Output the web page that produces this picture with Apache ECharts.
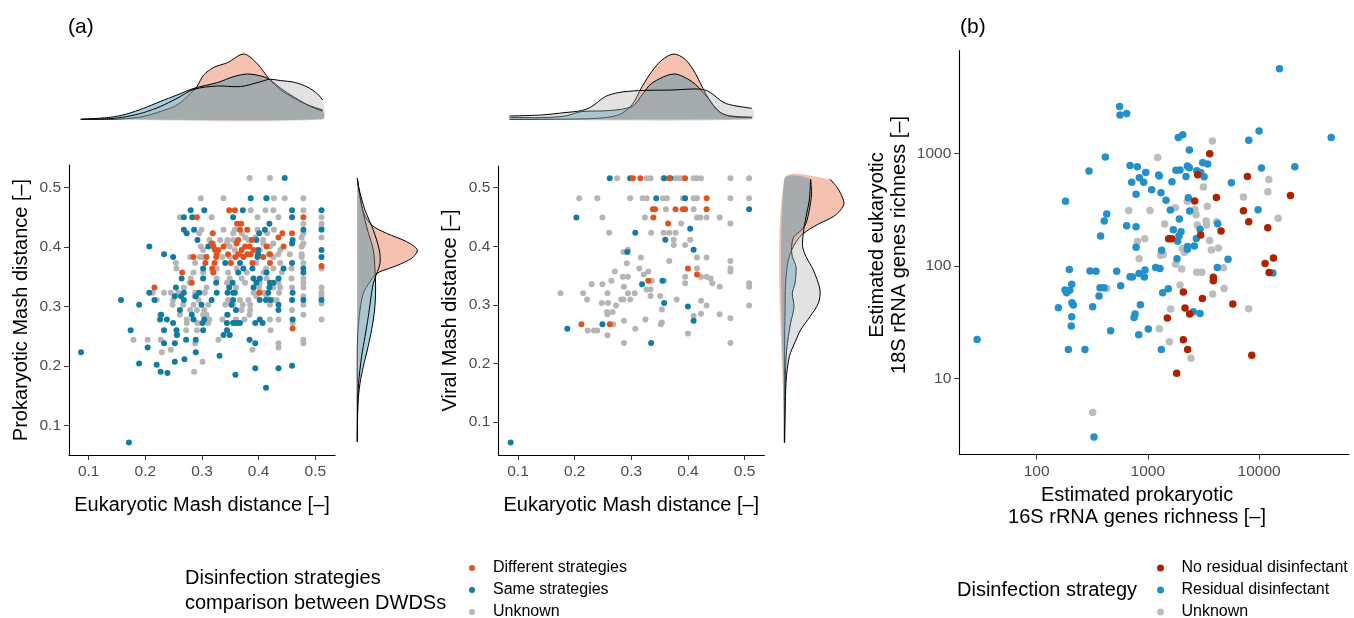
<!DOCTYPE html>
<html>
<head>
<meta charset="utf-8">
<script src="https://cdn.jsdelivr.net/npm/echarts@6.0.0/dist/echarts.min.js"></script>
<style>
  html, body { margin: 0; padding: 0; background: #fff; }
  #chart { width: 1354px; height: 618px; }
</style>
</head>
<body>
<div id="chart"></div>
<script>
// ---- tick labels ----
var mashTicks = [0.1, 0.2, 0.3, 0.4, 0.5];
var prokTicks = [100, 1000, 10000];
var eukTicks = [10, 100, 1000];

// ---- panel (a) left: eukaryotic vs prokaryotic Mash distance ----
var p1Different = [[0.348,0.462],[0.358,0.462],[0.291,0.45],[0.479,0.45],[0.362,0.439],[0.369,0.439],[0.367,0.429],[0.38,0.429],[0.319,0.423],[0.442,0.423],[0.459,0.423],[0.435,0.416],[0.364,0.412],[0.388,0.412],[0.317,0.406],[0.361,0.406],[0.32,0.401],[0.338,0.401],[0.376,0.401],[0.384,0.401],[0.414,0.401],[0.444,0.401],[0.323,0.395],[0.329,0.395],[0.37,0.395],[0.391,0.395],[0.326,0.388],[0.346,0.388],[0.364,0.388],[0.38,0.388],[0.386,0.388],[0.42,0.388],[0.285,0.383],[0.308,0.383],[0.325,0.383],[0.359,0.383],[0.373,0.383],[0.408,0.383],[0.306,0.373],[0.322,0.373],[0.351,0.373],[0.389,0.373],[0.42,0.373],[0.511,0.368],[0.318,0.364],[0.265,0.357],[0.32,0.357],[0.282,0.34],[0.216,0.332],[0.401,0.323],[0.46,0.263]];
var p1Same = [[0.446,0.516],[0.386,0.482],[0.414,0.482],[0.28,0.462],[0.304,0.462],[0.372,0.462],[0.459,0.462],[0.511,0.462],[0.268,0.45],[0.283,0.45],[0.355,0.45],[0.459,0.45],[0.419,0.439],[0.268,0.429],[0.286,0.429],[0.411,0.429],[0.479,0.429],[0.511,0.429],[0.273,0.423],[0.401,0.423],[0.292,0.412],[0.396,0.412],[0.46,0.412],[0.459,0.406],[0.207,0.401],[0.311,0.401],[0.399,0.395],[0.511,0.395],[0.233,0.388],[0.399,0.388],[0.249,0.383],[0.398,0.383],[0.511,0.383],[0.341,0.373],[0.367,0.373],[0.459,0.373],[0.302,0.364],[0.373,0.364],[0.389,0.364],[0.444,0.364],[0.479,0.364],[0.364,0.357],[0.414,0.357],[0.479,0.357],[0.264,0.347],[0.302,0.347],[0.391,0.347],[0.402,0.347],[0.435,0.347],[0.325,0.34],[0.354,0.34],[0.396,0.34],[0.42,0.34],[0.426,0.34],[0.254,0.332],[0.348,0.332],[0.391,0.332],[0.419,0.332],[0.207,0.323],[0.268,0.323],[0.295,0.323],[0.326,0.323],[0.345,0.323],[0.355,0.323],[0.358,0.323],[0.417,0.323],[0.46,0.323],[0.252,0.317],[0.263,0.317],[0.289,0.317],[0.157,0.311],[0.216,0.311],[0.268,0.311],[0.317,0.311],[0.355,0.311],[0.402,0.311],[0.413,0.311],[0.421,0.311],[0.459,0.311],[0.479,0.311],[0.511,0.311],[0.189,0.303],[0.299,0.303],[0.352,0.303],[0.435,0.303],[0.261,0.294],[0.36,0.294],[0.435,0.294],[0.228,0.286],[0.282,0.286],[0.345,0.286],[0.226,0.278],[0.238,0.278],[0.285,0.278],[0.304,0.278],[0.402,0.278],[0.46,0.278],[0.249,0.272],[0.301,0.272],[0.344,0.272],[0.355,0.272],[0.361,0.272],[0.367,0.272],[0.394,0.272],[0.407,0.272],[0.174,0.26],[0.233,0.26],[0.255,0.26],[0.302,0.26],[0.344,0.26],[0.256,0.252],[0.338,0.252],[0.349,0.252],[0.272,0.244],[0.289,0.244],[0.384,0.244],[0.233,0.238],[0.252,0.238],[0.394,0.238],[0.204,0.231],[0.0865,0.223],[0.289,0.223],[0.331,0.217],[0.269,0.211],[0.252,0.207],[0.189,0.204],[0.22,0.202],[0.459,0.2],[0.394,0.196],[0.435,0.196],[0.227,0.19],[0.239,0.188],[0.359,0.185],[0.413,0.163],[0.171,0.071]];
var p1Unknown = [[0.384,0.516],[0.42,0.516],[0.298,0.482],[0.338,0.482],[0.413,0.482],[0.427,0.482],[0.446,0.482],[0.479,0.482],[0.386,0.462],[0.412,0.462],[0.426,0.462],[0.479,0.462],[0.261,0.45],[0.317,0.45],[0.398,0.45],[0.435,0.45],[0.511,0.45],[0.511,0.439],[0.479,0.439],[0.299,0.429],[0.338,0.429],[0.358,0.429],[0.398,0.429],[0.427,0.429],[0.511,0.433],[0.295,0.423],[0.355,0.423],[0.37,0.423],[0.415,0.423],[0.479,0.423],[0.394,0.416],[0.376,0.416],[0.476,0.416],[0.511,0.416],[0.313,0.412],[0.332,0.412],[0.345,0.412],[0.355,0.412],[0.382,0.412],[0.408,0.412],[0.32,0.406],[0.344,0.406],[0.408,0.406],[0.426,0.406],[0.479,0.406],[0.298,0.401],[0.349,0.401],[0.42,0.401],[0.476,0.401],[0.302,0.395],[0.358,0.395],[0.402,0.395],[0.438,0.395],[0.367,0.388],[0.418,0.388],[0.435,0.388],[0.455,0.388],[0.476,0.388],[0.279,0.383],[0.296,0.383],[0.302,0.383],[0.336,0.383],[0.349,0.383],[0.426,0.383],[0.476,0.383],[0.254,0.373],[0.288,0.373],[0.396,0.373],[0.438,0.373],[0.479,0.373],[0.255,0.364],[0.326,0.364],[0.361,0.364],[0.413,0.364],[0.426,0.364],[0.458,0.364],[0.511,0.364],[0.285,0.357],[0.302,0.357],[0.346,0.357],[0.379,0.357],[0.409,0.357],[0.441,0.357],[0.28,0.347],[0.326,0.347],[0.349,0.347],[0.37,0.347],[0.414,0.347],[0.458,0.347],[0.479,0.347],[0.278,0.34],[0.344,0.34],[0.376,0.34],[0.402,0.34],[0.435,0.34],[0.479,0.34],[0.268,0.332],[0.308,0.332],[0.36,0.332],[0.401,0.332],[0.426,0.332],[0.438,0.332],[0.459,0.332],[0.479,0.332],[0.511,0.332],[0.213,0.323],[0.233,0.323],[0.245,0.323],[0.258,0.323],[0.288,0.323],[0.305,0.323],[0.391,0.323],[0.408,0.323],[0.436,0.323],[0.511,0.323],[0.287,0.317],[0.396,0.317],[0.414,0.317],[0.479,0.317],[0.511,0.317],[0.22,0.311],[0.249,0.311],[0.294,0.311],[0.346,0.311],[0.367,0.311],[0.382,0.311],[0.425,0.311],[0.432,0.311],[0.511,0.305],[0.248,0.303],[0.267,0.303],[0.285,0.303],[0.311,0.303],[0.341,0.303],[0.355,0.303],[0.372,0.303],[0.385,0.303],[0.42,0.303],[0.479,0.303],[0.279,0.294],[0.291,0.294],[0.304,0.294],[0.37,0.294],[0.385,0.294],[0.459,0.294],[0.226,0.286],[0.261,0.286],[0.302,0.286],[0.308,0.286],[0.344,0.286],[0.384,0.286],[0.479,0.286],[0.273,0.278],[0.313,0.278],[0.336,0.278],[0.36,0.278],[0.375,0.278],[0.42,0.278],[0.435,0.278],[0.511,0.278],[0.273,0.272],[0.292,0.272],[0.311,0.272],[0.46,0.272],[0.272,0.26],[0.291,0.26],[0.421,0.26],[0.255,0.252],[0.179,0.244],[0.204,0.244],[0.227,0.244],[0.329,0.244],[0.479,0.244],[0.288,0.238],[0.435,0.238],[0.479,0.238],[0.435,0.231],[0.245,0.227],[0.389,0.227],[0.229,0.223],[0.301,0.207],[0.286,0.19]];

// ---- panel (a) right: eukaryotic vs viral Mash distance ----
var p2Different = [[0.303,0.516],[0.316,0.516],[0.367,0.516],[0.395,0.516],[0.433,0.482],[0.338,0.463],[0.342,0.463],[0.378,0.463],[0.391,0.463],[0.395,0.463],[0.433,0.463],[0.339,0.449],[0.365,0.439],[0.4,0.362],[0.416,0.352],[0.33,0.341],[0.212,0.267],[0.262,0.267]];
var p2Same = [[0.262,0.516],[0.298,0.516],[0.358,0.516],[0.369,0.516],[0.344,0.482],[0.395,0.482],[0.508,0.463],[0.203,0.449],[0.404,0.43],[0.307,0.423],[0.36,0.411],[0.41,0.394],[0.293,0.39],[0.355,0.341],[0.319,0.335],[0.358,0.303],[0.4,0.297],[0.41,0.273],[0.249,0.267],[0.187,0.259],[0.335,0.235],[0.087,0.065]];
var p2Unknown = [[0.275,0.516],[0.327,0.516],[0.334,0.516],[0.357,0.516],[0.378,0.516],[0.384,0.516],[0.39,0.516],[0.41,0.516],[0.416,0.516],[0.423,0.516],[0.475,0.516],[0.508,0.516],[0.208,0.482],[0.24,0.482],[0.298,0.482],[0.32,0.482],[0.327,0.482],[0.356,0.482],[0.363,0.482],[0.391,0.482],[0.41,0.482],[0.416,0.482],[0.475,0.482],[0.508,0.482],[0.361,0.463],[0.41,0.463],[0.249,0.449],[0.324,0.449],[0.416,0.449],[0.422,0.449],[0.433,0.449],[0.456,0.449],[0.388,0.439],[0.475,0.439],[0.261,0.423],[0.335,0.423],[0.357,0.423],[0.367,0.423],[0.378,0.423],[0.375,0.411],[0.404,0.411],[0.375,0.402],[0.395,0.402],[0.294,0.394],[0.286,0.39],[0.317,0.381],[0.416,0.381],[0.433,0.381],[0.367,0.375],[0.475,0.375],[0.292,0.371],[0.314,0.362],[0.416,0.362],[0.475,0.362],[0.271,0.357],[0.475,0.357],[0.33,0.357],[0.322,0.352],[0.285,0.348],[0.294,0.348],[0.395,0.348],[0.433,0.348],[0.423,0.348],[0.44,0.345],[0.336,0.341],[0.358,0.341],[0.265,0.341],[0.443,0.337],[0.508,0.337],[0.395,0.337],[0.23,0.335],[0.249,0.335],[0.508,0.331],[0.456,0.331],[0.287,0.331],[0.327,0.326],[0.334,0.326],[0.175,0.32],[0.215,0.32],[0.258,0.32],[0.306,0.32],[0.294,0.32],[0.334,0.315],[0.351,0.315],[0.282,0.309],[0.298,0.309],[0.286,0.309],[0.222,0.309],[0.38,0.309],[0.423,0.307],[0.248,0.303],[0.259,0.303],[0.273,0.299],[0.508,0.299],[0.433,0.299],[0.354,0.292],[0.267,0.288],[0.257,0.288],[0.423,0.285],[0.456,0.284],[0.258,0.284],[0.41,0.281],[0.475,0.277],[0.325,0.275],[0.287,0.273],[0.354,0.27],[0.268,0.267],[0.352,0.267],[0.307,0.259],[0.223,0.256],[0.234,0.256],[0.24,0.256],[0.4,0.251],[0.258,0.248],[0.287,0.235],[0.475,0.235]];

// ---- panel (b): prokaryotic vs eukaryotic richness ----
var bNoResidual = [[3597,1000],[2805,650],[7850,628],[4130,408],[19140,425],[2636,379],[7230,311],[8070,248],[11970,219],[4550,205],[2985,189],[1538,175],[1637,175],[13460,118],[11320,105.6],[12300,87.8],[3880,79.3],[3880,74],[2084,58.7],[5800,45.9],[3090,51.5],[2158,42.3],[2376,37.4],[1496,34.5],[2084,22.1],[2278,18.1],[8590,16.1],[1816,11.1]];
var bResidual = [[15240,5710],[558,2640],[562,2210],[645,2285],[1880,1397],[2057,1475],[10000,1592],[8070,1315],[44460,1397],[2360,1078],[415,934],[296,701],[692,787],[805,766],[957,682],[839,611],[716,556],[918,556],[1251,646],[1268,632],[1790,711],[1945,716],[2264,777],[2360,750],[2203,628],[1648,563],[2750,706],[2985,682],[3199,624],[3112,832],[3451,809],[10500,745],[20940,766],[5640,552],[1082,478],[1313,450],[783,435],[182,377],[1456,385],[2312,406],[1592,316],[2377,309],[9790,317],[427,290],[406,252],[645,229],[783,224],[1918,262],[4247,238],[2944,213],[1694,210],[1986,202],[376,185],[1905,185],[2730,176],[1853,166],[783,147],[1330,138],[2278,149],[2264,141],[2618,151],[1829,116],[5260,115],[197,93.3],[302,90.2],[342,90],[525,90],[692,80.3],[726,80],[834,86],[931,80],[944,92],[1176,97.3],[1285,95.3],[4217,97.3],[13280,86.6],[207,68.7],[180,61.1],[199,61],[186,57.9],[372,64.1],[403,64],[570,66.9],[364,54.1],[1528,62.8],[1358,57.9],[208,47.2],[214,45],[157,42.6],[319,43.5],[857,45.3],[207,35.4],[767,37.4],[752,34.9],[2564,39.2],[2944,37.9],[205,29.2],[463,26.5],[1010,27.5],[828,24.5],[29.2,22.2],[193,18.1],[272,18.1],[1321,18.1],[328,3.0]];
var bUnknown = [[3800,1297],[1225,927],[12220,591],[11970,459],[7230,411],[3155,505],[2264,377],[1766,331],[3428,340],[673,313],[1045,313],[2656,319],[2710,286],[14830,267],[1416,237],[2786,232],[3334,252],[3381,232],[4159,248],[937,175],[805,165],[3597,169],[3724,139],[4303,145],[2042,143],[2128,133],[1303,125],[1377,127],[834,116],[4775,96.6],[2014,94],[2750,87.9],[3050,88],[427,63.2],[1945,67.8],[4843,63.2],[3828,56.4],[1603,41.4],[8070,41.7],[1268,27.7],[1560,21.2],[2445,15.1],[319,4.98],[1778,104]];

// ---- marginal densities, [position, density] ----
var top1Different = [[0.086,0],[0.138,0],[0.167,0.07],[0.197,0.3],[0.226,0.77],[0.256,1.43],[0.28,2.6],[0.291,3.27],[0.303,4.43],[0.321,5.2],[0.345,5.67],[0.374,6.53],[0.398,5.53],[0.419,4.0],[0.439,2.93],[0.463,2.1],[0.487,1.43],[0.513,0.93]];
var top1Same = [[0.086,0],[0.138,0.2],[0.167,0.53],[0.197,1.1],[0.226,1.77],[0.256,2.43],[0.286,3.1],[0.327,3.67],[0.356,4.27],[0.38,4.53],[0.404,4.33],[0.419,4.0],[0.439,3.1],[0.463,2.2],[0.487,1.43],[0.513,0.8]];
var top1Unknown = [[0.086,0],[0.138,0.07],[0.167,0.27],[0.197,0.67],[0.226,1.27],[0.256,2.1],[0.286,3.0],[0.327,3.33],[0.368,3.27],[0.404,3.77],[0.419,4.0],[0.439,3.87],[0.463,3.7],[0.487,3.2],[0.504,2.53],[0.513,1.93]];
var right1Different = [[0.072,0],[0.2267,0],[0.2604,0.07],[0.294,0.27],[0.3221,0.6],[0.3417,1.27],[0.3529,1.77],[0.3585,2.27],[0.3686,3.93],[0.381,5.43],[0.395,6.0],[0.409,4.93],[0.423,2.93],[0.437,1.43],[0.4567,0.67],[0.4847,0.27],[0.5156,0]];
var right1Same = [[0.072,0],[0.1369,0.07],[0.1706,0.27],[0.1986,0.6],[0.2267,1.0],[0.2604,1.43],[0.294,1.73],[0.3277,1.83],[0.3613,1.77],[0.395,1.6],[0.4342,0.93],[0.4791,0.33],[0.5156,0]];
var right1Unknown = [[0.072,0],[0.1257,0.03],[0.1706,0.13],[0.2155,0.43],[0.2491,0.77],[0.2828,1.1],[0.3108,1.33],[0.3389,1.6],[0.3546,1.93],[0.3725,2.27],[0.395,2.2],[0.4286,1.6],[0.4623,0.77],[0.4959,0.2],[0.5156,0]];
var top2Different = [[0.085,0],[0.23,0.07],[0.277,0.43],[0.301,1.43],[0.319,3.27],[0.336,4.77],[0.354,5.93],[0.375,6.53],[0.395,6.0],[0.413,4.6],[0.431,2.6],[0.449,1.1],[0.466,0.43],[0.513,0.2]];
var top2Same = [[0.085,0.2],[0.141,0.17],[0.183,0.33],[0.212,0.77],[0.26,0.87],[0.301,1.27],[0.319,2.43],[0.336,3.6],[0.375,4.53],[0.407,3.77],[0.431,2.43],[0.455,0.77],[0.478,0.27],[0.513,0.2]];
var top2Unknown = [[0.085,0.33],[0.141,0.43],[0.183,0.67],[0.212,0.87],[0.23,1.27],[0.254,2.27],[0.277,2.67],[0.313,2.87],[0.372,2.93],[0.419,3.03],[0.437,2.77],[0.466,1.6],[0.513,1.1]];
var right2Different = [[0.065,0],[0.2457,0.03],[0.2799,0.07],[0.3368,0.13],[0.3766,0.4],[0.3994,0.9],[0.4164,1.57],[0.4278,2.4],[0.4392,3.57],[0.4506,4.9],[0.462,5.63],[0.4734,5.97],[0.4904,5.63],[0.5018,5.23],[0.5143,4.57]];
var right2Same = [[0.065,0.03],[0.1661,0.1],[0.223,0.23],[0.2685,0.63],[0.2969,0.97],[0.3197,0.8],[0.3368,1.07],[0.3652,1.17],[0.3823,0.8],[0.3994,0.73],[0.4164,0.97],[0.4278,1.73],[0.4392,2.17],[0.462,2.5],[0.4904,2.73],[0.5143,2.63]];
var right2Unknown = [[0.065,0.03],[0.1661,0.17],[0.2116,0.5],[0.24,1.17],[0.2571,1.63],[0.2799,2.57],[0.3026,3.4],[0.3254,3.57],[0.3595,2.9],[0.3823,2.17],[0.3994,1.83],[0.4221,1.9],[0.4506,2.17],[0.479,2.5],[0.5143,2.63]];

var font = 'Liberation Sans, Arial, sans-serif';
var cOrange = '#E2521F', cBlue = '#117BA2', cGray = '#B5B5B5';
var cRed = '#AE2200', cSky = '#2490C8', cGray2 = '#BDBDBD';
var fOrange = 'rgba(228,82,37,0.36)', fBlue = 'rgba(14,127,166,0.36)', fGray = 'rgba(175,175,175,0.36)';

var myChart = echarts.init(document.getElementById('chart'));

function mainX(idx, name, ticks) {
    return {
        type: 'value', gridIndex: idx, min: 0.0652, max: 0.5348,
        name: name, nameLocation: 'middle', nameGap: 40,
        nameTextStyle: { fontFamily: font, fontSize: 20, color: '#000' },
        axisLine: { onZero: false, lineStyle: { color: '#000', width: 1.1 } },
        axisTick: { length: 5, customValues: ticks, lineStyle: { color: '#333' } },
        axisLabel: { customValues: ticks, margin: 9, fontFamily: font, fontSize: 15.5, color: '#4D4D4D' },
        splitLine: { show: false }
    };
}
function mainY(idx, name, min, max, ticks) {
    return {
        type: 'value', gridIndex: idx, min: min, max: max,
        name: name, nameLocation: 'middle', nameGap: 38,
        nameTextStyle: { fontFamily: font, fontSize: 20, color: '#000' },
        axisLine: { onZero: false, lineStyle: { color: '#000', width: 1.1 } },
        axisTick: { length: 5, customValues: ticks, lineStyle: { color: '#333' } },
        axisLabel: { customValues: ticks, margin: 8, fontFamily: font, fontSize: 15.5, color: '#4D4D4D' },
        splitLine: { show: false }
    };
}
function hidden(idx, min, max) {
    return { type: 'value', gridIndex: idx, min: min, max: max, show: false, splitLine: { show: false } };
}
function scatter(name, data, color, idx, size) {
    return {
        type: 'scatter', name: name, data: data, xAxisIndex: idx, yAxisIndex: idx,
        symbolSize: size, itemStyle: { color: color, opacity: 1 }, silent: true
    };
}
// density curve drawn as filled polygon plus black outline
function density(curve, fill, idx, vertical) {
    var pos = function (p) { return vertical ? [p[1], p[0]] : [p[0], p[1]]; };
    return {
        type: 'custom', xAxisIndex: idx, yAxisIndex: idx, silent: true,
        data: curve.map(pos),
        renderItem: function (params, api) {
            if (params.dataIndex !== 0) return null;
            var pts = curve.map(function (p) { return api.coord(pos(p)); });
            var a = curve[0][0], b = curve[curve.length - 1][0];
            var b0 = api.coord(pos([a, 0])), b1 = api.coord(pos([b, 0]));
            return {
                type: 'group',
                children: [
                    { type: 'polygon', shape: { points: [b0].concat(pts, [b1]), smooth: 0.3 }, style: { fill: fill } },
                    { type: 'polyline', shape: { points: pts, smooth: 0.3 }, style: { stroke: '#000', lineWidth: 1, fill: null } }
                ]
            };
        }
    };
}
function legend(left, size, items) {
    return {
        orient: 'vertical', left: left, top: 560, width: 260, height: 100, padding: 0,
        itemWidth: 32, itemHeight: size, itemGap: 6, icon: 'circle', selectedMode: false,
        textStyle: { fontFamily: font, fontSize: 16, lineHeight: 16, color: '#000' },
        data: items
    };
}

var option = {
    animation: false,
    textStyle: { fontFamily: font },
    title: [
        { text: '(a)', left: 63, top: 12, textStyle: { fontFamily: font, fontSize: 21, fontWeight: 'normal', color: '#000' } },
        { text: '(b)', left: 955, top: 12, textStyle: { fontFamily: font, fontSize: 21, fontWeight: 'normal', color: '#000' } },
        { text: 'Disinfection strategies\ncomparison between DWDSs', left: 180, top: 561,
          textStyle: { fontFamily: font, fontSize: 20, lineHeight: 25, fontWeight: 'normal', color: '#000' } },
        { text: 'Disinfection strategy', left: 952, top: 573,
          textStyle: { fontFamily: font, fontSize: 20, lineHeight: 25, fontWeight: 'normal', color: '#000' } }
    ],
    legend: [
        legend(469, 6, [{ name: 'Different strategies', itemStyle: { color: cOrange } }, { name: 'Same strategies', itemStyle: { color: cBlue } }, { name: 'Unknown', itemStyle: { color: cGray } }]),
        legend(1157, 7, [{ name: 'No residual disinfectant', itemStyle: { color: cRed } }, { name: 'Residual disinfectant', itemStyle: { color: cSky } }, { name: 'Unknown', itemStyle: { color: cGray2 } }])
    ],
    grid: [
        { left: 69, top: 165, width: 266, height: 290, outerBoundsMode: 'none' },
        { left: 69, top: 52, width: 266, height: 67.3, outerBoundsMode: 'none' },
        { left: 357.3, top: 165, width: 64, height: 290, outerBoundsMode: 'none' },
        { left: 498.3, top: 166, width: 266, height: 289, outerBoundsMode: 'none' },
        { left: 498.3, top: 52, width: 266, height: 67.3, outerBoundsMode: 'none' },
        { left: 784.3, top: 166, width: 64, height: 289, outerBoundsMode: 'none' },
        { left: 959.3, top: 50.5, width: 389.5, height: 404, outerBoundsMode: 'none' }
    ],
    xAxis: [
        mainX(0, 'Eukaryotic Mash distance [\u2013]', mashTicks),
        hidden(1, 0.0652, 0.5348),
        hidden(2, 0, 6.4),
        mainX(3, 'Eukaryotic Mash distance [\u2013]', mashTicks),
        hidden(4, 0.0652, 0.5348),
        hidden(5, 0, 6.4),
        {
            type: 'log', logBase: 10, gridIndex: 6, min: 20.2, max: 64000,
            name: 'Estimated prokaryotic\n16S rRNA genes richness [\u2013]', nameLocation: 'middle', nameGap: 29,
            nameTextStyle: { fontFamily: font, fontSize: 20, lineHeight: 22, color: '#000', padding: [0, 34, 0, 0] },
            axisLine: { onZero: false, lineStyle: { color: '#000', width: 1.1 } },
            axisTick: { length: 5, customValues: prokTicks, lineStyle: { color: '#333' } },
            axisLabel: { customValues: prokTicks, margin: 9, fontFamily: font, fontSize: 15.5, color: '#4D4D4D',
                         formatter: function (v) { return String(Math.round(v)); } },
            splitLine: { show: false }
        }
    ],
    yAxis: [
        mainY(0, 'Prokaryotic Mash distance [\u2013]', 0.05, 0.538, mashTicks),
        hidden(1, 0, 6.73),
        hidden(2, 0.05, 0.538),
        mainY(3, 'Viral Mash distance [\u2013]', 0.0437, 0.537, mashTicks),
        hidden(4, 0, 6.73),
        hidden(5, 0.0437, 0.537),
        {
            type: 'log', logBase: 10, gridIndex: 6, min: 2.1, max: 8300,
            name: 'Estimated eukaryotic\n18S rRNA genes richness [\u2013]', nameLocation: 'middle', nameGap: 49,
            nameTextStyle: { fontFamily: font, fontSize: 20, lineHeight: 22, color: '#000', padding: [0, 0, 0, 15] },
            axisLine: { onZero: false, lineStyle: { color: '#000', width: 1.1 } },
            axisTick: { length: 5, customValues: eukTicks, lineStyle: { color: '#333' } },
            axisLabel: { customValues: eukTicks, margin: 8, fontFamily: font, fontSize: 15.5, color: '#4D4D4D',
                         formatter: function (v) { return String(Math.round(v)); } },
            splitLine: { show: false }
        }
    ],
    series: [
        scatter('Unknown', p1Unknown, cGray, 0, 6),
        scatter('Same strategies', p1Same, cBlue, 0, 6),
        scatter('Different strategies', p1Different, cOrange, 0, 6),
        density(top1Different, fOrange, 1, false),
        density(top1Same, fBlue, 1, false),
        density(top1Unknown, fGray, 1, false),
        density(right1Different, fOrange, 2, true),
        density(right1Same, fBlue, 2, true),
        density(right1Unknown, fGray, 2, true),
        scatter('Unknown', p2Unknown, cGray, 3, 6),
        scatter('Same strategies', p2Same, cBlue, 3, 6),
        scatter('Different strategies', p2Different, cOrange, 3, 6),
        density(top2Different, fOrange, 4, false),
        density(top2Same, fBlue, 4, false),
        density(top2Unknown, fGray, 4, false),
        density(right2Different, fOrange, 5, true),
        density(right2Same, fBlue, 5, true),
        density(right2Unknown, fGray, 5, true),
        scatter('Unknown', bUnknown, cGray2, 6, 7.5),
        scatter('Residual disinfectant', bResidual, cSky, 6, 7.5),
        scatter('No residual disinfectant', bNoResidual, cRed, 6, 7.5)
    ]
};
myChart.setOption(option);
</script>
</body>
</html>
